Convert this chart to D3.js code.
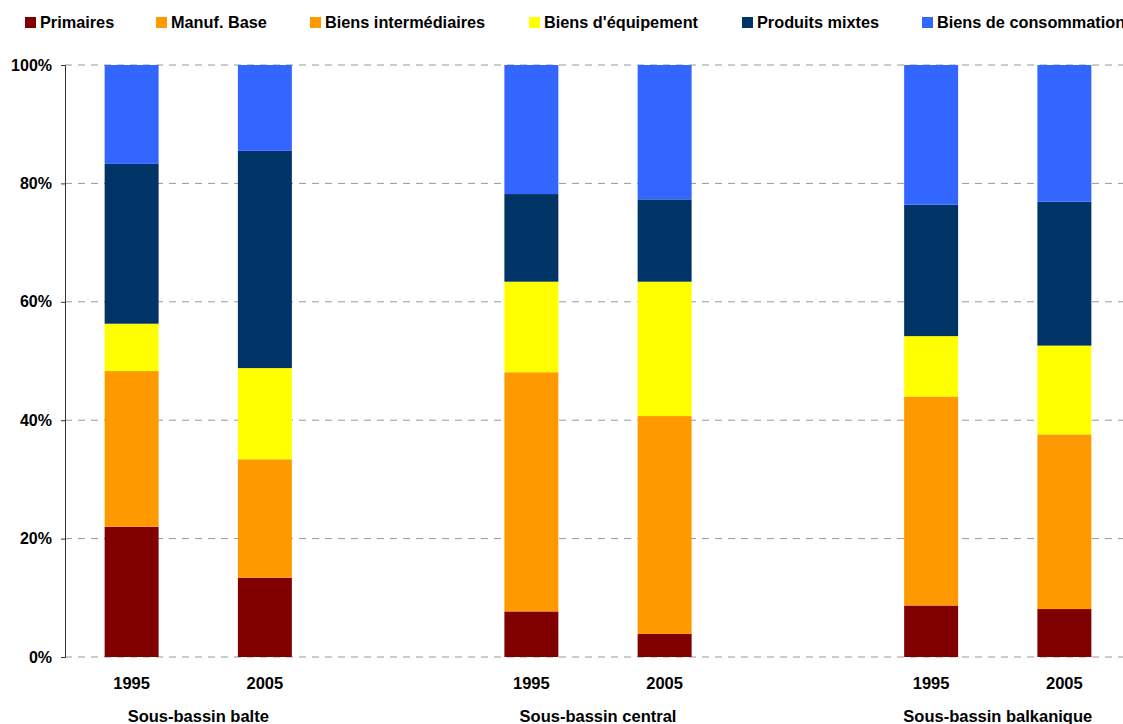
<!DOCTYPE html>
<html><head><meta charset="utf-8">
<script src="https://cdn.jsdelivr.net/npm/d3@7"></script>
<style>body{margin:0;background:#fff;overflow:hidden}svg{display:block;font-family:"Liberation Sans",Arial,sans-serif;font-weight:bold}</style>
</head><body><svg id="c" width="1123" height="724"></svg>
<script>
const slots = ["b1995","b2005","gap1","c1995","c2005","gap2","k1995","k2005"];
const bars = ["b1995","b2005","c1995","c2005","k1995","k2005"];
const years = ["1995","2005","1995","2005","1995","2005"];
const groups = ["Sous-bassin balte","Sous-bassin central","Sous-bassin balkanique"];
const seriesNames = ["Primaires","Manuf. Base","Biens intermédiaires","Biens d'équipement","Produits mixtes","Biens de consommation"];
const colors = ["#800000","#FF9900","#FF9900","#FFFF00","#003366","#3366FF"];
const primaires = [22.0,13.4,7.7,3.9,8.7,8.1];
const manufBase = [0,0,0,0,0,0];
const intermediaires = [26.3,20.0,40.4,36.8,35.3,29.5];
const equipement = [8.0,15.4,15.3,22.7,10.2,15.0];
const mixtes = [27.0,36.7,14.8,13.9,22.2,24.3];
const consommation = [16.7,14.5,21.8,22.7,23.6,23.1];
const yTicks = [0,20,40,60,80,100];

const seriesVals = [primaires,manufBase,intermediaires,equipement,mixtes,consommation];
const table = bars.map((b,i)=>{const o={bar:b};seriesNames.forEach((s,j)=>o[s]=seriesVals[j][i]);return o;});
const stack = d3.stack().keys(seriesNames).offset(d3.stackOffsetExpand)(table);

const svg = d3.select("#c");
const x = d3.scaleBand().domain(slots).range([65,1131]).paddingInner(0.595).paddingOuter(0.2975);
const y = d3.scaleLinear().domain([0,1]).range([657,65]);

// gridlines
svg.append("g").selectAll("line").data(yTicks).join("line")
  .attr("x1",65).attr("x2",1123).attr("y1",d=>y(d/100)).attr("y2",d=>y(d/100))
  .attr("stroke","#999").attr("stroke-dasharray","7,6").attr("stroke-width",1);

// bars
svg.append("g").selectAll("g").data(stack).join("g").attr("fill",(d,i)=>colors[i])
  .selectAll("rect").data(d=>d).join("rect")
  .attr("x",d=>x(d.data.bar)).attr("width",x.bandwidth())
  .attr("y",d=>y(d[1])).attr("height",d=>Math.max(0,y(d[0])-y(d[1])));

// y axis
const ya = svg.append("g").attr("transform","translate(65,0)")
  .call(d3.axisLeft(y).tickValues(yTicks.map(v=>v/100)).tickFormat(d=>Math.round(d*100)+"%").tickSize(4).tickPadding(9));
ya.select(".domain").attr("stroke","#333");
ya.selectAll(".tick line").attr("stroke","#333");
ya.selectAll("text").attr("font-size",16).attr("font-weight","bold").attr("font-family","Liberation Sans, Arial, sans-serif").attr("fill","#000");

// year labels
svg.append("g").selectAll("text").data(bars).join("text")
  .attr("x",d=>x(d)+x.bandwidth()/2).attr("y",689).attr("text-anchor","middle")
  .attr("font-size",16.5).text((d,i)=>years[i]);

// group labels
svg.append("g").selectAll("text").data(groups).join("text")
  .attr("x",(d,i)=>(x(bars[2*i])+x(bars[2*i+1]))/2+x.bandwidth()/2).attr("y",722).attr("text-anchor","middle")
  .attr("font-size",16.5).text(d=>d);

// legend
const legX = [25,156,310,529,742,922];
const lg = svg.append("g").selectAll("g").data(seriesNames).join("g")
  .attr("transform",(d,i)=>`translate(${legX[i]},17)`);
lg.append("rect").attr("width",11).attr("height",11).attr("fill",(d,i)=>colors[i]);
lg.append("text").attr("x",15).attr("y",11).attr("font-size",16.3).text(d=>d);
</script></body></html>
